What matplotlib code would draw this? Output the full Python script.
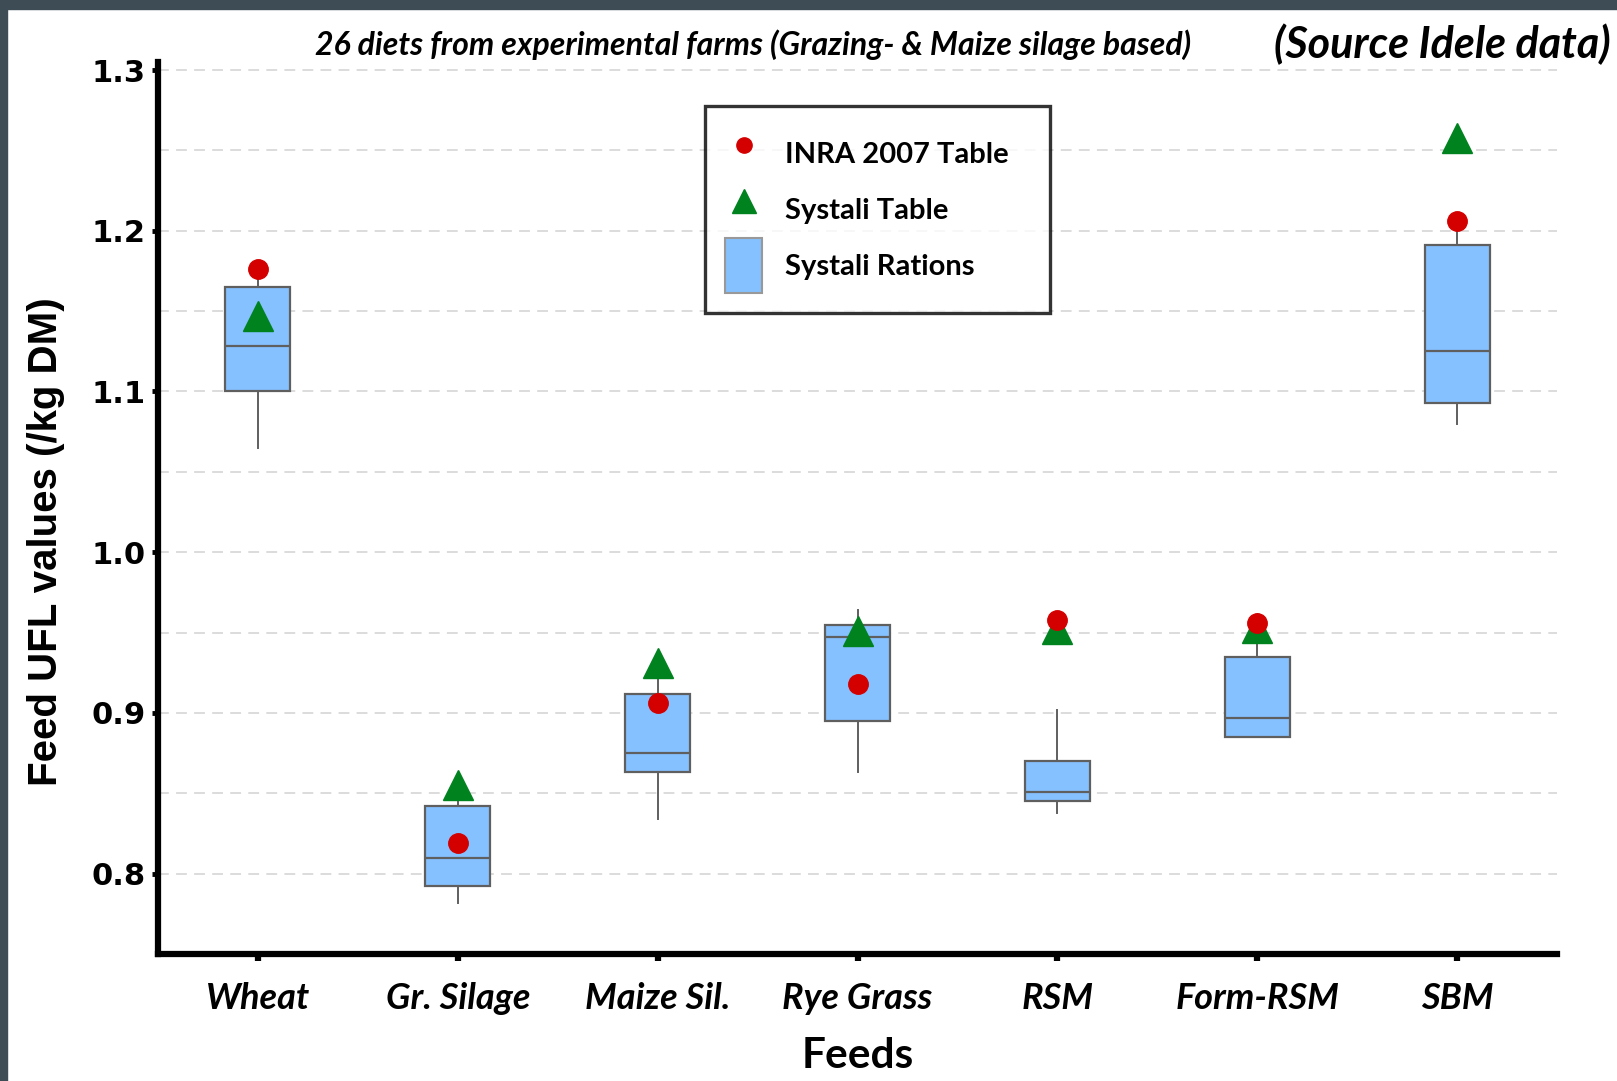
import matplotlib
matplotlib.use("Agg")
import matplotlib.pyplot as plt
from matplotlib.lines import Line2D
from matplotlib.patches import Patch, Rectangle

# data
feeds = ["Wheat", "Gr. Silage", "Maize Sil.", "Rye Grass", "RSM", "Form-RSM", "SBM"]
whis_low = [1.065, 0.782, 0.834, 0.863, 0.838, 0.885, 1.080]
q1 = [1.100, 0.792, 0.863, 0.895, 0.845, 0.885, 1.093]
median = [1.128, 0.810, 0.875, 0.947, 0.851, 0.897, 1.125]
q3 = [1.165, 0.842, 0.912, 0.955, 0.870, 0.935, 1.191]
whis_high = [1.172, 0.848, 0.925, 0.964, 0.902, 0.945, 1.201]
inra_2007 = [1.176, 0.819, 0.906, 0.918, 0.958, 0.956, 1.206]
systali_table = [1.147, 0.855, 0.931, 0.951, 0.952, 0.953, 1.258]

box_blue = "#85C1FF"
box_edge = "#5f5f5f"
red = "#D40000"
green = "#00821F"

fig = plt.figure(figsize=(16.17, 10.81), dpi=100)
ax = fig.add_axes([158 / 1617, 1 - 954 / 1081, (1557 - 158) / 1617, (954 - 62) / 1081])

x = list(range(len(feeds)))
stats = []
for i in x:
    stats.append({"med": median[i], "q1": q1[i], "q3": q3[i],
                  "whislo": whis_low[i], "whishi": whis_high[i], "fliers": []})

ax.bxp(stats, positions=x, widths=0.325, patch_artist=True, showcaps=False,
       showfliers=False,
       boxprops=dict(facecolor=box_blue, edgecolor=box_edge, linewidth=1.6),
       medianprops=dict(color=box_edge, linewidth=1.6),
       whiskerprops=dict(color=box_edge, linewidth=1.4), zorder=3)

ax.plot(x, systali_table, linestyle="none", marker="^", markersize=21,
        color=green, zorder=5)
ax.plot(x, inra_2007, linestyle="none", marker="o", markersize=14,
        color=red, zorder=6)

ax.set_xlim(-0.5, 6.5)
ax.set_ylim(0.75, 1.305)
ax.set_xticks(x)
ax.set_xticklabels(feeds, fontfamily="Lato", fontweight="bold",
                   fontstyle="italic", fontsize=26)
ax.set_yticks([0.8, 0.9, 1.0, 1.1, 1.2, 1.3])
ax.set_yticklabels(["0.8", "0.9", "1.0", "1.1", "1.2", "1.3"],
                   fontfamily="DejaVu Sans", fontweight="bold", fontsize=22)
ax.set_yticks([0.85, 0.95, 1.05, 1.15, 1.25], minor=True)
ax.tick_params(axis="y", which="major", length=4, width=3.5, pad=5)
ax.tick_params(axis="y", which="minor", length=0)
ax.tick_params(axis="x", length=5, width=4.5, pad=15)

ax.grid(True, axis="y", which="both", color="#d9d9d9", linestyle=(0, (6, 4)),
        linewidth=1.3, zorder=0)
ax.set_axisbelow(True)

for s in ["top", "right"]:
    ax.spines[s].set_visible(False)
for s in ["left", "bottom"]:
    ax.spines[s].set_linewidth(4.5)
    ax.spines[s].set_color("black")

fig.text(46 / 1617, 1 - 542 / 1081, "Feed UFL values (/kg DM)", rotation=90,
         ha="center", va="center", fontfamily="Liberation Sans",
         fontweight="bold", fontsize=29)
fig.text(858 / 1617, 1 - 1056 / 1081, "Feeds", ha="center", va="center",
         fontfamily="Lato", fontweight="bold", fontsize=30.5)
fig.text(753 / 1617, 1 - 45 / 1081,
         "26 diets from experimental farms (Grazing- & Maize silage based)",
         ha="center", va="center", fontfamily="Lato", fontweight="bold",
         fontstyle="italic", fontsize=23)
fig.text(1611 / 1617, 1 - 44 / 1081, "(Source Idele data)", ha="right",
         va="center", fontfamily="Lato", fontweight="bold",
         fontstyle="italic", fontsize=31)

handles = [
    Line2D([], [], linestyle="none", marker="o", markersize=11, color=red),
    Line2D([], [], linestyle="none", marker="^", markersize=17, color=green),
    Patch(facecolor=box_blue, edgecolor="#999999", linewidth=1.5),
]
leg_x0 = 705 / 1617
leg_y1 = 1 - 106 / 1081
leg_w = (1050 - 705) / 1617
leg = fig.legend(handles, ["INRA 2007 Table", "Systali Table", "Systali Rations"],
                 loc="upper left", bbox_to_anchor=(leg_x0, leg_y1 - 0.2, leg_w, 0.2),
                 mode="expand",
                 prop=dict(family="Lato", weight="bold", size=21),
                 frameon=True, fancybox=False, handlelength=1.25,
                 handleheight=2.5, handletextpad=0.8, borderpad=0.7,
                 labelspacing=0.05, borderaxespad=0)
leg.get_frame().set_edgecolor("black")
leg.get_frame().set_linewidth(2.4)

# dark border on top and left edges of the picture
border = "#3d4c55"
fig.patches.append(Rectangle((0, 1 - 9 / 1081), 1, 9 / 1081,
                             transform=fig.transFigure, color=border, zorder=10))
fig.patches.append(Rectangle((0, 0), 7 / 1617, 1,
                             transform=fig.transFigure, color=border, zorder=10))

fig.savefig("out.png", dpi=100)
